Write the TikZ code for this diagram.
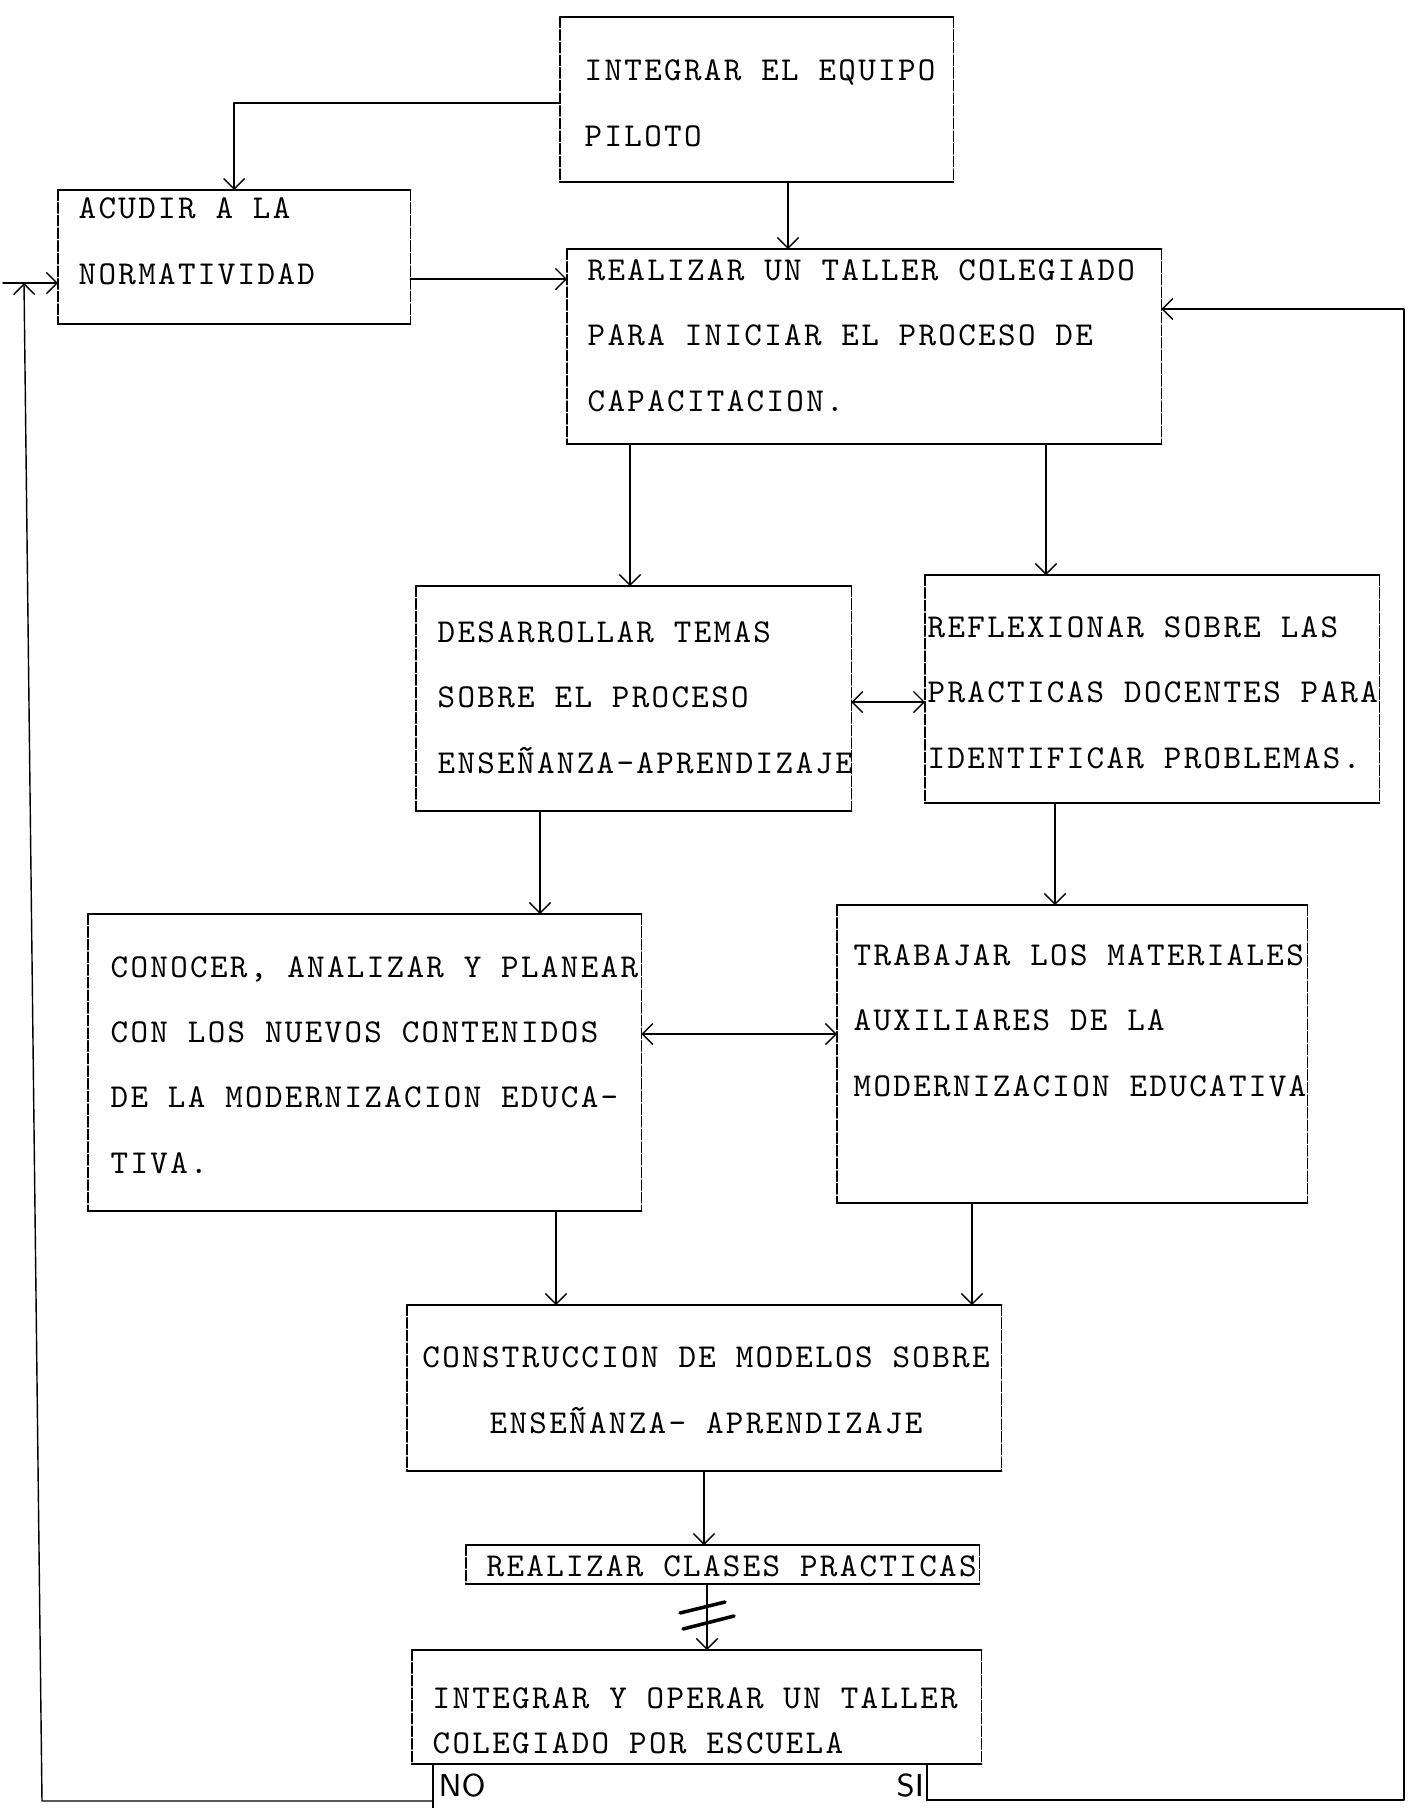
\documentclass[tikz,border=0pt]{standalone}
\usepackage{fontspec}
\newfontfamily\typew{lmmono10-regular.otf}[LetterSpace=7.0]
\usetikzlibrary{arrows.meta}

\tikzset{
  paso/.style 2 args={minimum width=#1, minimum height=#2, inner sep=0pt, outer sep=0pt, anchor=north west},
  texto/.style={anchor=base west, inner sep=0pt, align=left, font={\typew\fontsize{9.5pt}{18.5pt}\selectfont}},
  borde/.style={line width=0.7pt},
  lado/.style={line width=0.35pt, dash pattern=on 3pt off 0.6pt},
  flecha/.style={->, line width=0.4pt},
  marca/.style={line width=1pt},
}

\begin{document}
\begin{tikzpicture}[x=0.01cm, y=-0.01cm, line cap=round, line join=round, >={Straight Barb[length=3pt,width=6pt]}]
  \useasboundingbox (0,0) rectangle (1411,1808);

  \node[paso={3.93cm}{1.65cm}] (b1) at (560,17) {};
  \node[paso={3.52cm}{1.34cm}] (b2) at (58,190) {};
  \node[paso={5.94cm}{1.95cm}] (b3) at (567,249) {};
  \node[paso={4.35cm}{2.25cm}] (b4) at (416,586) {};
  \node[paso={4.54cm}{2.28cm}] (b5) at (925,575) {};
  \node[paso={5.53cm}{2.97cm}] (b6) at (88,914) {};
  \node[paso={4.70cm}{2.98cm}] (b7) at (837,905) {};
  \node[paso={5.94cm}{1.66cm}] (b8) at (407,1305) {};
  \node[paso={5.13cm}{0.39cm}] (b9) at (466,1545) {};
  \node[paso={5.69cm}{1.14cm}] (b10) at (412,1650) {};

  \foreach \b in {b1,b2,b3,b4,b5,b6,b7,b8,b9,b10}{
    \draw[borde] (\b.north west) -- (\b.north east);
    \draw[borde] (\b.south west) -- (\b.south east);
    \draw[lado] (\b.north west) -- (\b.south west);
    \draw[lado] (\b.north east) -- (\b.south east);
  }

  % base = last line
  \node[texto] (t1) at (584,146) {INTEGRAR EL EQUIPO\\PILOTO};
  \node[texto] (t2) at (78,284) {ACUDIR A LA\\NORMATIVIDAD};
  \node[texto] (t3) at (587,411) {REALIZAR UN TALLER COLEGIADO\\PARA INICIAR EL PROCESO DE\\CAPACITACION.};
  \node[texto] (t4) at (437,773) {DESARROLLAR TEMAS\\SOBRE EL PROCESO\\ENSEÑANZA-APRENDIZAJE};
  \node[texto] (t5) at (927,768) {REFLEXIONAR SOBRE LAS\\PRACTICAS DOCENTES PARA\\IDENTIFICAR PROBLEMAS.};
  \node[texto] (t6) at (110,1173) {CONOCER, ANALIZAR Y PLANEAR\\CON LOS NUEVOS CONTENIDOS\\DE LA MODERNIZACION EDUCA-\\TIVA.};
  \node[texto] (t7) at (853,1096) {TRABAJAR LOS MATERIALES\\AUXILIARES DE LA\\MODERNIZACION EDUCATIVA};
  \node[texto, anchor=base, align=center] (t8) at (706,1433) {CONSTRUCCION DE MODELOS SOBRE\\ENSEÑANZA- APRENDIZAJE};
  \node[texto] (t9) at (486,1576) {REALIZAR CLASES PRACTICAS};
  \node[texto, font={\typew\fontsize{9.5pt}{12.8pt}\selectfont}] (t10) at (432,1753) {INTEGRAR Y OPERAR UN TALLER\\COLEGIADO POR ESCUELA};
  \node[anchor=west, inner sep=0pt, font=\sffamily\fontsize{9pt}{10pt}\selectfont] (no) at (438,1785) {NO};
  \node[anchor=west, inner sep=0pt, font=\sffamily\fontsize{9pt}{10pt}\selectfont] (si) at (896,1785) {SI};

  \draw[flecha] (b1.west |- 0,103) -| (b2.north);
  \draw[flecha] (b1.south -| 788,0) -- (b3.north -| 788,0);
  \draw[flecha] (b2.east |- 0,279) -- (b3.west |- 0,279);
  \draw[flecha] (b3.south -| 630,0) -- (b4.north -| 630,0);
  \draw[flecha] (b3.south -| 1046,0) -- (b5.north -| 1046,0);
  \draw[flecha, <->] (b4.east |- 0,702) -- (b5.west |- 0,702);
  \draw[flecha] (b4.south -| 540,0) -- (b6.north -| 540,0);
  \draw[flecha] (b5.south -| 1055,0) -- (b7.north -| 1055,0);
  \draw[flecha, <->] (b6.east |- 0,1034) -- (b7.west |- 0,1034);
  \draw[flecha] (b6.south -| 556,0) -- (b8.north -| 556,0);
  \draw[flecha] (b7.south -| 972,0) -- (b8.north -| 972,0);
  \draw[flecha] (b8.south -| 704,0) -- (b9.north -| 704,0);
  \draw[flecha] (b9.south -| 707,0) -- (b10.north -| 707,0);
  \draw[marca] (680,1613) -- (725,1602);
  \draw[marca] (683,1629) -- (734,1616);

  \coordinate (izq) at (3,283);
  \coordinate (der) at (1404,309);
  \draw[borde] (b10.south -| 433,0) -- (433,1808);
  \draw[borde] (b10.south -| 927,0) -- (927,1800);
  \draw[flecha] (433,1801) -- (42,1801) -- (24,283);
  \draw[flecha] (izq) -- (b2.west |- izq);
  \draw[flecha] (927,1800) -- (1404,1800) -- (der) -- (b3.east |- der);
\end{tikzpicture}
\end{document}
